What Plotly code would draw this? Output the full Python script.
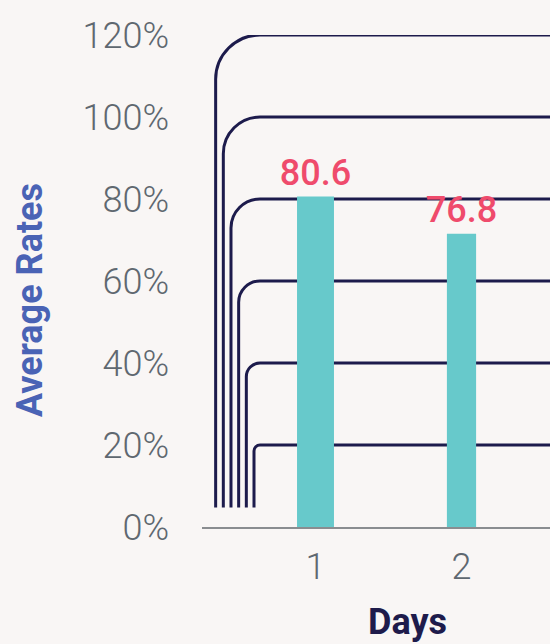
import plotly.graph_objects as go

# ---- data ----
days = [1, 2]
day_labels = ["1", "2"]
bar_values = [80.6, 71.5]          # bar heights as drawn
bar_labels = ["80.6", "76.8"]      # value labels printed above bars
y_ticks = [0, 20, 40, 60, 80, 100, 120]
y_tick_labels = ["0%", "20%", "40%", "60%", "80%", "100%", "120%"]

# ---- styling ----
BG = "#f9f6f5"
BAR_COLOR = "#67c9cb"
LABEL_COLOR = "#ef4b6c"
LINE_COLOR = "#1d1b4c"
TICK_COLOR = "#5f6870"
W, H = 550, 644
ML, MR, MT, MB = 202, 0, 35, 117
PW, PH = W - ML - MR, H - MT - MB
Y_MAX = 120
X_RANGE = [0.2226, 0.2226 + PW / 146.0]
px_per_unit = PH / Y_MAX

fig = go.Figure()
fig.add_trace(go.Bar(
    x=days, y=bar_values, width=[0.253, 0.2],
    marker=dict(color=BAR_COLOR, line=dict(width=0)),
    text=bar_labels, textposition="outside", cliponaxis=False,
    constraintext="none",
    textfont=dict(family="Roboto", size=36, color=LABEL_COLOR, weight=500),
    hoverinfo="skip",
))

# decorative rounded gridlines (one per non-zero tick level)
shapes = []
levels = [v for v in y_ticks if v > 0]
bottom_val = 19.5 / px_per_unit
for k, v in enumerate(levels):
    xv_px = 52 - 7.67 * k          # vertical offset from plot left, in px
    r_px = 58 - xv_px              # corner radius in px
    xv = xv_px / PW
    rx = r_px / PW
    ry = r_px / px_per_unit
    c = 0.4477
    path = (f"M {xv},{bottom_val} L {xv},{v - ry} "
            f"C {xv},{v - c * ry} {xv + c * rx},{v} {xv + rx},{v} "
            f"L 1.02,{v}")
    shapes.append(dict(type="path", path=path, xref="paper", yref="y",
                       line=dict(color=LINE_COLOR, width=3), layer="below"))

fig.update_layout(
    width=W, height=H,
    margin=dict(l=ML, r=MR, t=MT, b=MB),
    paper_bgcolor=BG, plot_bgcolor=BG,
    showlegend=False,
    shapes=shapes,
    xaxis=dict(range=X_RANGE, tickvals=days, ticktext=day_labels,
               showgrid=False, zeroline=False, showline=True,
               linecolor="#8a8d90", linewidth=2, ticks="",
               ticklabelstandoff=7,
               tickfont=dict(family="Roboto", size=36, color=TICK_COLOR, weight=300)),
    yaxis=dict(range=[0, Y_MAX], tickvals=y_ticks, ticktext=y_tick_labels,
               showgrid=False, zeroline=False, showline=False, ticks="",
               ticklabelstandoff=32,
               tickfont=dict(family="Roboto", size=36, color=TICK_COLOR, weight=300)),
    annotations=[
        dict(text="Average Rates", textangle=-90, xref="paper", yref="paper",
             x=(30 - ML) / PW, y=(H - MB - 300) / PH, xanchor="center", yanchor="middle",
             showarrow=False,
             font=dict(family="Roboto", size=36, color="#4a63b5", weight=700)),
        dict(text="Days", xref="paper", yref="paper",
             x=(407 - ML) / PW, y=-(622 - (H - MB)) / PH, xanchor="center", yanchor="middle",
             showarrow=False,
             font=dict(family="Roboto", size=36, color="#1e1b4b", weight=700)),
    ],
)

fig.write_html("out.html", config={"displayModeBar": False},
               post_script="document.body.style.margin='0';document.body.style.overflow='hidden';")
